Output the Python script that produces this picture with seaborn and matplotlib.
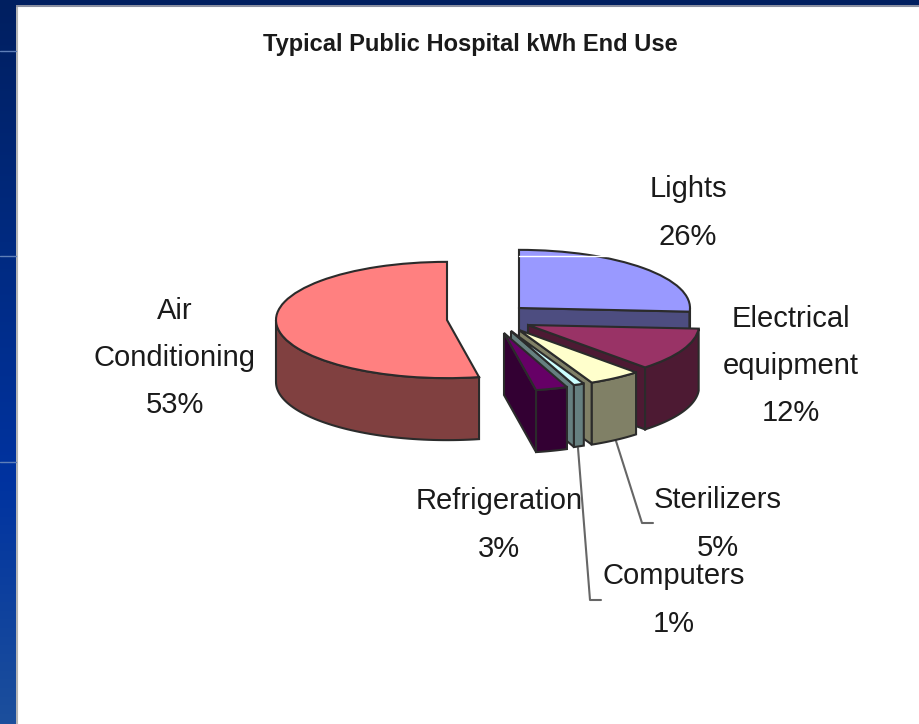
import numpy as np
import matplotlib
matplotlib.use("Agg")
import matplotlib.pyplot as plt
from matplotlib.colors import LinearSegmentedColormap
from matplotlib.patches import Polygon
import seaborn as sns

sns.set_theme(style="white")
plt.rcParams['font.family'] = ['Liberation Sans', 'DejaVu Sans']

# data
categories = ["Lights", "Electrical\nequipment", "Sterilizers", "Computers", "Refrigeration", "Air\nConditioning"]
shares = [26, 12, 5, 1, 3, 53]
top_colors = ["#9999FF", "#993366", "#FFFFCC", "#CCFFFF", "#660066", "#FF8080"]
side_colors = ["#4D4D80", "#4D1A33", "#808066", "#668080", "#330033", "#804040"]

# layout, in pixels of the picture
W, H = 920, 724
RADIUS = 171
SQUASH = 0.34
DEPTH = 62
slice_centers = [(519, 308), (528, 325), (519, 330), (511, 331), (504, 333), (447, 320)]
label_pos = [(688, 213), (791, 366), (718, 524), (674, 600), (499, 525), (175, 358)]
EDGE = "#2b2b2b"


def Y(py):
    return (H - py) / SQUASH


fig = plt.figure(figsize=(W / 100, H / 100), dpi=100)
ax = fig.add_axes([0, 0, 1, 1])

# top faces
wedges, _ = ax.pie(shares, startangle=90, counterclock=False, radius=RADIUS,
                   colors=sns.color_palette(top_colors),
                   wedgeprops=dict(edgecolor=EDGE, linewidth=1.5))
ax.set_aspect("auto")
ax.set_xlim(0, W)
ax.set_ylim(0, H / SQUASH)
ax.axis("off")

ends = np.cumsum(shares) / sum(shares) * 360
starts = np.r_[0, ends[:-1]]
depth = DEPTH / SQUASH


def rim(cx, cy, a, b):
    t = np.radians(np.linspace(a, b, 60))
    return np.c_[cx + RADIUS * np.sin(t), cy + RADIUS * np.cos(t)]


for i, w in enumerate(wedges):
    cx, cy = slice_centers[i][0], Y(slice_centers[i][1])
    w.set_center((cx, cy))
    w.set_zorder(10 + 3 * i + 2)
    kw = dict(closed=True, facecolor=side_colors[i], edgecolor=EDGE, linewidth=1.5)
    # cut face, only when it looks to the front
    if ends[i] < 180:
        p = rim(cx, cy, ends[i], ends[i])[0]
        face = [(cx, cy), p, (p[0], p[1] - depth), (cx, cy - depth)]
        ax.add_patch(Polygon(face, zorder=10 + 3 * i, **kw))
    # outer wall, the front half of the rim
    a, b = max(starts[i], 90), min(ends[i], 270)
    if a < b:
        arc = rim(cx, cy, a, b)
        low = arc[::-1] - [0, depth]
        ax.add_patch(Polygon(np.r_[arc, low], zorder=10 + 3 * i + 1, **kw))

# labels
for name, share, (lx, ly) in zip(categories, shares, label_pos):
    ax.text(lx, Y(ly), f"{name}\n{share}%", ha="center", va="center", ma="center",
            fontsize=21, linespacing=1.87, color="#1a1a1a", zorder=40)

ax.text(470, Y(45), "Typical Public Hospital kWh End Use", ha="center", va="center",
        fontsize=17, fontweight="bold", color="#1a1a1a", zorder=40)

# leader lines
ax.plot([616, 642, 653], [Y(441), Y(523), Y(523)], color="#666666", lw=1.5, zorder=5)
ax.plot([578, 590, 601], [Y(448), Y(600), Y(600)], color="#666666", lw=1.5, zorder=5)

# slide background
band = LinearSegmentedColormap.from_list("band", ["#001F60", "#002A80", "#0033A0", "#1C4F9C"])
ax.imshow(np.linspace(0, 1, 256)[:, None], cmap=band, aspect="auto",
          extent=(0, 16, Y(H), Y(0)), zorder=30)
ax.set_xlim(0, W)
ax.set_ylim(0, H / SQUASH)
ax.fill_between([0, W], Y(5), Y(0), color="#001F60", lw=0, zorder=31)
ax.plot([17, 17], [Y(H), Y(6)], color="#b5b5b5", lw=1.5, zorder=29)
ax.plot([16, W], [Y(6), Y(6)], color="#8a8fa0", lw=1.5, zorder=29)
for ly in [51, 256, 462]:
    ax.plot([0, 16], [Y(ly), Y(ly)], color="#5f7fb8", lw=1, zorder=32)
ax.plot([519, 607], [Y(256), Y(256)], color="white", lw=1, zorder=35)

fig.savefig("out.png", dpi=100)
